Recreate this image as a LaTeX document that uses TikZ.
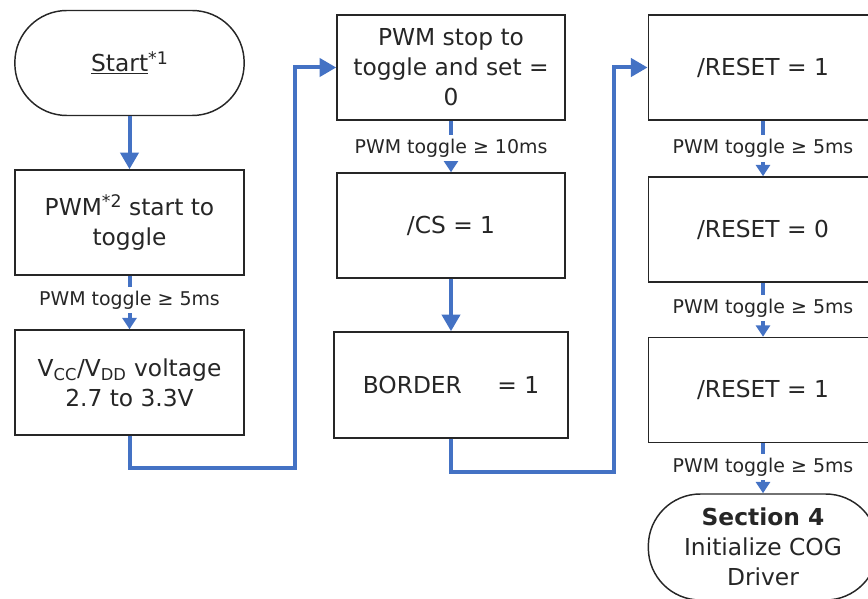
\documentclass[tikz,border=0pt]{standalone}
\usepackage{fontspec}
\setmainfont{DejaVu Sans}
\usetikzlibrary{arrows.meta}
\definecolor{flowblue}{HTML}{4472C4}
\definecolor{ink}{HTML}{262626}
\newcommand{\supmark}[1]{\raisebox{0.55ex}{\fontsize{13}{13}\selectfont #1}}
\begin{document}
\begin{tikzpicture}[x=0.75pt,y=-0.75pt,
  font=\fontsize{17.5}{22.5}\selectfont,
  stepbox/.style={draw=ink,line width=1.1pt,text=ink,minimum width=172pt,
    minimum height=78.75pt,align=center,inner sep=2pt},
  termbox/.style={stepbox,rounded corners=39pt},
  flow/.style={flowblue,line width=3pt},
  bigtip/.style={-{Triangle[width=13.5pt,length=12.5pt]}},
  smalltip/.style={-{Triangle[width=10.5pt,length=8.5pt]}},
  lbl/.style={fill=white,text=ink,font=\fontsize{14.2}{16}\selectfont,
    inner xsep=2pt,inner ysep=3pt}]
\useasboundingbox (0,0) rectangle (868,599);
\clip (0,0) rectangle (868,599);

% left column
\node[termbox] (start) at (129.5,63) {\underline{Start}\supmark{*1}};
\node[stepbox] (pwm) at (129.5,222.5) {PWM\supmark{*2} start to\\toggle};
\node[stepbox] (vcc) at (129.5,382.5) {V\textsubscript{CC}/V\textsubscript{DD} voltage\\2.7 to 3.3V};

% middle column
\node[stepbox,minimum width=171pt] (stop) at (451,67.5) {PWM stop to\\toggle and set =\\0};
\node[stepbox,minimum width=171pt] (cs) at (451,225.5) {/CS = 1};
\node[stepbox,minimum width=175.5pt,minimum height=79.5pt] (border) at (451,385) {BORDER\hspace{1.2em} = 1};

% right column
\node[stepbox] (r1) at (763,67.5) {/RESET = 1};
\node[stepbox] (r0) at (763,229.5) {/RESET = 0};
\node[stepbox] (r1b) at (763,390) {/RESET = 1};
\node[termbox,minimum height=79.5pt] (sec4) at (763,547) {\textbf{Section 4}\\Initialize COG\\Driver};

% bend points of the column-to-column connectors
\coordinate (c2) at (295,468);
\coordinate (c4) at (614,472);

% connectors
\draw[flow,bigtip] (start) -- (pwm);
\draw[flow,smalltip] (pwm) -- node[lbl,pos=0.45]{PWM toggle ≥ 5ms} (vcc);
\draw[flow,smalltip] (stop) -- node[lbl,pos=0.53]{PWM toggle ≥ 10ms} (cs);
\draw[flow,bigtip] (vcc.south) |- (c2) |- (stop.west);
\draw[flow,bigtip] (cs) -- (border);
\draw[flow,bigtip] (border.south) |- (c4) |- (r1.west);
\draw[flow,smalltip] (r1) -- node[lbl,pos=0.5]{PWM toggle ≥ 5ms} (r0);
\draw[flow,smalltip] (r0) -- node[lbl,pos=0.47]{PWM toggle ≥ 5ms} (r1b);
\draw[flow,smalltip] (r1b) -- node[lbl,pos=0.48]{PWM toggle ≥ 5ms} (sec4);
\end{tikzpicture}
\end{document}
